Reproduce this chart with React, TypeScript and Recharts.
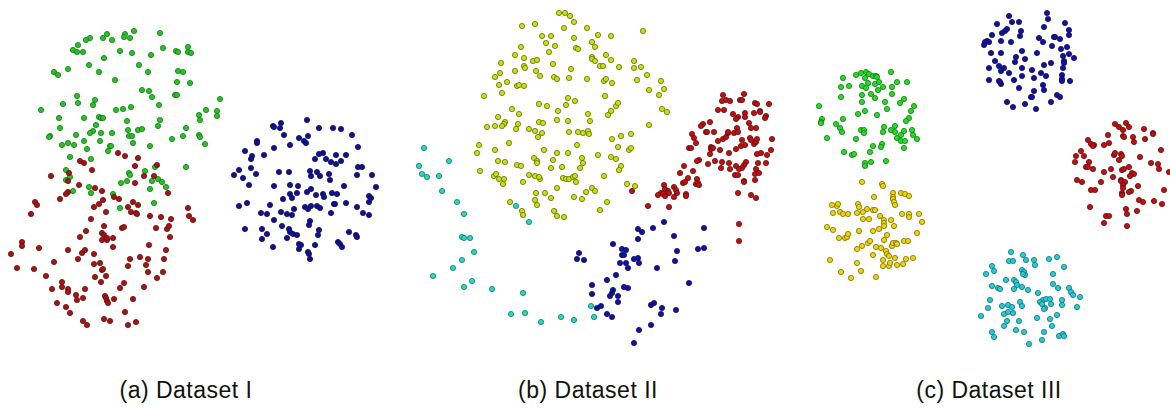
import { ScatterChart, Scatter, XAxis, YAxis } from "recharts";

type Pt = [number, number];

// (a) Dataset I
const aGreen: Pt[] = [
  [134,31],[125,34],[107,34],[160,33],[124,37],[130,38],[103,38],[112,40],[90,38],[86,40],[78,45],[73,50],[77,52],[83,52],[120,51],[132,53],[151,55],[163,48],[176,51],[178,52],[188,47],[188,52],[191,53],[104,58],[89,65],[139,65],[68,69],[54,72],[58,75],[99,72],[148,72],[178,71],[183,72],[115,80],[177,82],[190,83],[142,90],[149,91],[152,97],[175,95],[177,95],[77,96],[95,100],[78,103],[63,104],[93,105],[220,99],[41,110],[116,110],[123,109],[131,107],[159,105],[206,110],[217,111],[217,116],[59,118],[84,118],[99,117],[101,118],[103,118],[199,115],[200,120],[127,121],[160,120],[96,125],[158,126],[186,128],[60,128],[93,131],[90,133],[101,133],[112,133],[128,130],[138,130],[142,129],[129,136],[132,136],[50,136],[49,137],[76,135],[183,136],[172,139],[199,135],[200,137],[84,141],[100,141],[62,145],[68,143],[74,145],[133,143],[110,146],[111,146],[205,144],[150,146],[87,149],[108,151],[70,157],[91,159],[186,167],[145,171],[155,167],[129,173],[130,175],[66,170],[70,177],[158,179],
  [66,180],[73,191],[89,187],[91,193],[121,183],[127,181],[152,181],[162,182],[166,187],[150,189],[113,194],[120,208],[154,203],
];
const aRed: Pt[] = [
  [118,153],[125,156],[138,158],
  [80,161],[84,163],[92,170],[135,166],[157,165],[154,176],[144,176],[51,176],[69,173],[68,181],[79,185],[68,192],[66,194],[95,188],[102,191],[135,183],[168,193],[60,199],[35,202],[37,205],[31,214],[114,197],[119,199],[103,200],[99,204],[94,207],[106,212],[133,202],[138,205],[128,207],[131,212],[136,213],[137,214],[150,216],[161,217],[171,219],[188,208],[189,216],[193,220],[91,219],[104,226],[122,228],[124,227],[156,228],[167,229],[169,226],[170,237],[86,231],[102,233],[104,235],[80,237],[102,240],[107,240],[107,238],[113,238],[113,247],[22,242],[22,246],[39,248],[11,254],[68,250],[82,253],[85,250],[94,254],[149,245],[166,250],[78,259],[54,262],[17,268],[34,269],[94,264],[100,263],[102,270],[103,269],[130,259],[140,257],[148,259],[128,266],[146,265],[164,259],[148,272],[163,272],[46,276],[62,282],[62,287],[68,289],[68,292],[52,289],[95,277],[106,276],[101,282],[124,283],[157,278],[144,287],[120,288],[85,289],[76,295],[77,300],[83,298],[105,296],[106,298],[107,301],[108,303],[114,299],[133,299],[57,303],[66,307],[70,313],[125,312],[83,321],[87,325],[104,319],[110,321],[128,325],[136,322],
];
const aBlue: Pt[] = [
  [307,120],[281,123],[273,126],[274,127],[280,128],[284,135],[319,128],[333,128],[341,129],[352,135],[299,138],[304,141],[306,143],[308,136],[257,141],[257,143],[290,145],[274,148],[358,147],[245,151],[264,155],[252,156],[251,159],[323,153],[319,154],[315,159],[326,159],[331,162],[336,164],[336,155],[341,161],[346,155],[239,170],[234,175],[251,168],[256,174],[243,178],[279,172],[289,172],[310,171],[317,172],[311,176],[320,176],[329,174],[330,180],[358,167],[362,167],[357,175],[372,175],[249,185],[274,186],[290,185],[298,186],[376,187],[344,186],[369,196],[371,198],[307,192],[311,189],[290,194],[297,193],[292,198],[283,199],[316,195],[323,194],[324,197],[332,193],[337,194],[239,206],[247,203],[270,205],[305,207],[311,206],[317,206],[320,208],[334,204],[335,204],[346,203],[369,202],[357,207],[261,213],[267,214],[281,212],[287,214],[292,215],[294,209],[308,209],[331,213],[363,213],[369,215],[274,220],[310,221],[309,225],[282,226],[245,229],[262,229],[267,234],[262,239],[289,229],[290,232],[293,234],[297,235],[287,238],[319,230],[318,235],[349,232],[356,235],[357,237],[273,247],[299,244],[301,245],[299,249],[315,245],[338,242],[340,244],[342,247],[308,252],[309,254],[310,259],
];

// (b) Dataset II
const bYellow: Pt[] = [
  [559,13],[565,13],[570,16],[574,22],[535,24],[522,26],[564,28],[587,28],[643,31],[542,36],[551,36],[598,35],[611,36],[574,38],[546,43],[555,46],[592,42],[595,47],[521,47],[549,52],[576,48],[578,49],[515,55],[524,58],[533,61],[537,60],[553,64],[592,57],[592,59],[595,61],[606,55],[611,60],[600,66],[603,66],[619,67],[634,61],[634,68],[641,67],[501,63],[515,71],[524,66],[525,68],[536,71],[540,76],[571,69],[500,73],[495,77],[499,85],[507,82],[517,86],[519,85],[524,86],[502,93],[484,96],[554,77],[557,79],[569,78],[587,79],[604,81],[606,79],[612,83],[637,80],[647,75],[661,81],[649,90],[659,95],[664,89],[605,96],[568,98],[575,101],[566,105],[539,104],[547,106],[558,111],[512,109],[519,114],[498,117],[505,122],[504,124],[502,126],[495,126],[487,127],[539,122],[543,123],[557,120],[568,121],[588,114],[590,121],[608,115],[611,111],[616,106],[618,103],[662,109],[667,112],[649,125],[516,129],[518,124],[529,129],[535,131],[542,133],[538,137],[569,132],[578,132],[583,133],[588,131],[589,134],[479,145],[477,153],[509,143],[495,150],[544,150],[557,153],[568,153],[577,145],[598,155],[612,139],[621,136],[631,134],[618,147],[629,150],[631,148],[611,157],[616,159],[498,161],[505,162],[534,158],[537,161],[537,163],[553,160],[582,158],[583,163],[517,165],[521,166],[551,168],[562,167],[580,168],[621,166],[619,170],[480,171],[494,176],[496,174],[499,179],[504,179],[503,184],[523,182],[529,175],[535,176],[540,179],[539,177],[563,178],[566,179],[569,179],[573,177],[575,176],[576,182],[604,176],[557,188],[536,193],[545,193],[551,198],[535,200],[537,205],[574,197],[582,199],[586,192],[592,188],[595,191],[607,202],[600,210],[627,184],[635,186],[510,202],[522,211],[523,215],[554,211],[557,216],[564,217],
];
const bRed: Pt[] = [
  [723,95],[744,94],[722,101],[726,100],[730,101],[740,100],[742,100],[755,103],[757,104],[769,104],[718,110],[724,110],[733,114],[738,117],[736,119],[745,113],[745,117],[754,113],[760,111],[760,112],[766,116],[765,118],[710,122],[703,124],[701,126],[692,134],[694,138],[696,143],[706,132],[707,132],[714,132],[718,141],[723,139],[726,137],[728,133],[728,132],[734,133],[737,128],[738,132],[749,123],[751,128],[756,128],[750,138],[751,140],[754,144],[756,142],[757,139],[772,139],[742,140],[745,145],[741,146],[736,149],[729,153],[720,150],[711,147],[711,149],[713,148],[710,154],[689,148],[691,148],[771,150],[757,154],[761,153],[767,155],[766,163],[758,163],[756,169],[746,162],[744,165],[742,168],[736,166],[739,169],[729,163],[730,169],[722,162],[715,161],[721,168],[708,164],[699,160],[697,161],[684,166],[693,171],[680,173],[688,178],[683,183],[685,182],[697,179],[696,184],[698,183],[699,185],[735,175],[738,175],[755,174],[755,180],[759,173],[744,181],[744,182],[664,185],[665,189],[668,191],[674,187],[676,190],[677,193],[669,193],[661,193],[658,195],[663,194],[665,196],[686,194],[686,196],[674,197],[738,193],[751,195],[756,198],[648,206],[669,207],[739,224],[739,241],[632,191],
];
const bCyan: Pt[] = [
  [424,148],[449,161],[419,166],[422,174],[427,177],[439,176],[442,191],[457,202],[464,214],[516,206],[529,222],[462,237],[464,238],[470,238],[474,252],[462,260],[453,268],[433,276],[472,281],[464,287],[492,289],[523,293],[511,314],[525,313],[541,322],[561,317],[574,320],[591,306],[594,317],
];
const bBlue: Pt[] = [
  [664,222],[638,229],[642,232],[653,228],[704,228],[638,239],[674,236],[613,244],[622,249],[626,250],[622,255],[624,255],[677,251],[698,249],[704,248],[579,253],[577,259],[584,260],[634,259],[638,258],[639,263],[620,263],[626,263],[628,268],[657,268],[675,261],[616,275],[607,280],[689,283],[592,285],[624,287],[628,288],[613,290],[612,293],[610,296],[618,296],[592,294],[618,302],[601,306],[597,308],[651,305],[654,303],[662,308],[676,310],[607,314],[612,317],[661,314],[651,325],[639,330],[634,343],
];

// (c) Dataset III
const cGreen: Pt[] = [
  [891,72],[856,75],[861,73],[866,72],[869,74],[873,76],[876,76],[877,77],[865,78],[843,78],[841,87],[849,86],[862,86],[866,88],[868,83],[875,84],[879,82],[883,87],[878,90],[892,87],[897,82],[907,82],[841,97],[862,95],[871,94],[875,98],[892,94],[904,99],[900,103],[862,102],[885,102],[887,109],[865,111],[914,106],[911,111],[819,106],[858,114],[877,115],[822,119],[821,122],[821,123],[843,119],[836,124],[840,128],[842,132],[909,118],[906,121],[861,130],[864,130],[864,133],[884,127],[883,132],[891,130],[895,126],[895,132],[897,138],[901,135],[904,131],[912,130],[913,135],[917,139],[901,141],[905,141],[856,139],[827,138],[873,146],[882,144],[881,147],[904,148],[870,152],[844,152],[852,155],[854,154],[865,163],[865,166],[871,162],[886,161],
];
const cBlue: Pt[] = [
  [1009,16],[1047,13],[1048,19],[997,24],[1012,22],[1019,22],[1065,23],[1044,27],[1069,30],[1069,35],[1007,29],[1005,31],[1002,33],[1021,31],[1020,36],[992,35],[987,41],[985,42],[989,42],[984,45],[1001,41],[1011,42],[1039,38],[1043,42],[1054,37],[1055,37],[1060,39],[1052,46],[1061,49],[1067,47],[991,53],[1001,53],[1022,51],[1016,57],[1025,59],[1037,53],[1063,56],[1069,54],[1074,58],[1064,61],[1064,63],[995,61],[999,66],[1004,68],[1001,71],[1009,73],[1015,62],[1022,68],[1032,70],[1034,78],[1041,73],[1046,76],[1044,65],[1051,63],[989,68],[989,80],[999,81],[1001,84],[1000,82],[1014,80],[1022,76],[1063,68],[1062,75],[1062,79],[1062,81],[1070,81],[1043,85],[1044,90],[1019,88],[1034,91],[1031,97],[1032,97],[1057,95],[1060,97],[1007,102],[1013,107],[1025,104],[1036,109],[1051,102],
];
const cYellow: Pt[] = [
  [862,182],[882,184],[883,186],[893,193],[893,197],[893,199],[894,202],[895,205],[901,193],[905,194],[909,196],[874,197],[832,205],[837,206],[838,204],[858,204],[859,207],[867,209],[873,210],[875,210],[833,213],[840,212],[843,214],[848,214],[857,213],[863,212],[869,219],[863,219],[880,216],[884,220],[884,223],[891,220],[894,226],[902,214],[909,214],[909,217],[919,214],[922,222],[827,227],[833,230],[859,231],[873,231],[879,229],[884,226],[887,235],[884,240],[917,233],[839,238],[845,238],[847,237],[848,234],[857,249],[862,246],[868,243],[870,241],[876,247],[881,248],[886,251],[887,254],[892,246],[893,243],[896,243],[897,244],[904,241],[908,241],[873,255],[883,260],[889,256],[895,258],[906,259],[913,258],[830,260],[857,263],[883,266],[889,266],[890,263],[897,265],[903,264],[841,272],[851,278],[861,271],[876,277],
];
const cRed: Pt[] = [
  [1115,124],[1119,127],[1123,130],[1126,123],[1129,127],[1144,129],[1153,133],[1153,134],[1108,135],[1123,136],[1124,137],[1133,137],[1134,142],[1145,139],[1088,140],[1091,144],[1094,145],[1093,146],[1104,145],[1109,143],[1161,150],[1081,151],[1076,156],[1084,156],[1114,155],[1115,153],[1121,154],[1122,156],[1119,160],[1140,157],[1151,163],[1158,164],[1159,169],[1075,162],[1089,162],[1086,167],[1088,167],[1093,169],[1104,172],[1111,169],[1122,170],[1124,169],[1129,167],[1132,173],[1134,174],[1130,176],[1113,177],[1169,172],[1077,180],[1082,182],[1101,182],[1121,180],[1121,181],[1125,182],[1123,185],[1123,188],[1131,191],[1129,192],[1138,186],[1122,193],[1122,195],[1164,190],[1091,190],[1095,190],[1139,200],[1143,202],[1154,201],[1162,204],[1090,207],[1126,209],[1127,214],[1137,211],[1106,216],[1109,216],[1104,223],[1127,226],
];
const cCyan: Pt[] = [
  [1011,252],[1023,255],[1009,261],[1013,261],[1026,260],[1034,260],[1035,265],[1049,259],[1057,257],[1064,267],[992,266],[994,271],[986,274],[1006,280],[1014,280],[1016,282],[1017,285],[1022,270],[1024,272],[1025,275],[1023,274],[1053,274],[992,286],[998,288],[1000,289],[1014,289],[1022,287],[1028,290],[1053,284],[1058,288],[1069,288],[1071,292],[1073,295],[1080,297],[1038,293],[1043,300],[1040,302],[1042,304],[1046,299],[1050,299],[1062,300],[1062,305],[1051,304],[1077,307],[990,300],[988,308],[981,316],[1002,306],[1008,305],[1012,307],[1020,302],[1022,306],[1004,314],[1008,312],[1013,313],[1045,308],[1044,309],[1037,318],[1050,319],[1057,315],[1007,321],[1019,321],[1004,326],[1052,326],[992,332],[994,337],[1016,330],[1024,332],[1044,332],[1059,336],[1063,334],[1064,336],[1042,340],[1029,344],
];

const captions = ["(a) Dataset I", "(b) Dataset II", "(c) Dataset III"];
const captionX = [186, 588, 989];

const series = [
  { name: "aGreen", pts: aGreen, fill: "#22c522", stroke: "#157a15" },
  { name: "aRed", pts: aRed, fill: "#a81414", stroke: "#6a0a0a" },
  { name: "aBlue", pts: aBlue, fill: "#12128f", stroke: "#0b0b66" },
  { name: "bYellow", pts: bYellow, fill: "#c6e400", stroke: "#5f6e10" },
  { name: "bRed", pts: bRed, fill: "#c01010", stroke: "#6a0a0a" },
  { name: "bCyan", pts: bCyan, fill: "#20dcc0", stroke: "#137868" },
  { name: "bBlue", pts: bBlue, fill: "#1212a0", stroke: "#0b0b66" },
  { name: "cGreen", pts: cGreen, fill: "#22dd22", stroke: "#157a15" },
  { name: "cBlue", pts: cBlue, fill: "#1212a0", stroke: "#0b0b66" },
  { name: "cYellow", pts: cYellow, fill: "#f0d400", stroke: "#806e00" },
  { name: "cRed", pts: cRed, fill: "#c01010", stroke: "#6a0a0a" },
  { name: "cCyan", pts: cCyan, fill: "#22ccdd", stroke: "#137078" },
];

const dot = (fill: string, stroke: string) => (props: any) =>
  <circle cx={props.cx} cy={props.cy} r={2.6} fill={fill} stroke={stroke} strokeWidth={0.8} />;

export default function App() {
  return (
    <div style={{ position: "absolute", left: 0, top: 0, width: 1170, height: 410, background: "#fff" }}>
      <ScatterChart width={1170} height={410} margin={{ top: 0, right: 0, bottom: 0, left: 0 }}>
        <XAxis type="number" dataKey="x" domain={[0, 1170]} hide />
        <YAxis type="number" dataKey="y" domain={[0, 410]} reversed hide />
        {series.map((s) => (
          <Scatter
            key={s.name}
            data={s.pts.map(([x, y]) => ({ x, y }))}
            shape={dot(s.fill, s.stroke)}
            isAnimationActive={false}
          />
        ))}
      </ScatterChart>
      {captions.map((c, i) => (
        <div
          key={c}
          style={{
            position: "absolute",
            left: captionX[i] - 150,
            width: 300,
            top: 376,
            textAlign: "center",
            fontFamily: "'Liberation Sans', Arial, sans-serif",
            fontSize: 23,
            letterSpacing: 0.5,
            color: "#111",
            lineHeight: "28px",
          }}
        >
          {c}
        </div>
      ))}
    </div>
  );
}
